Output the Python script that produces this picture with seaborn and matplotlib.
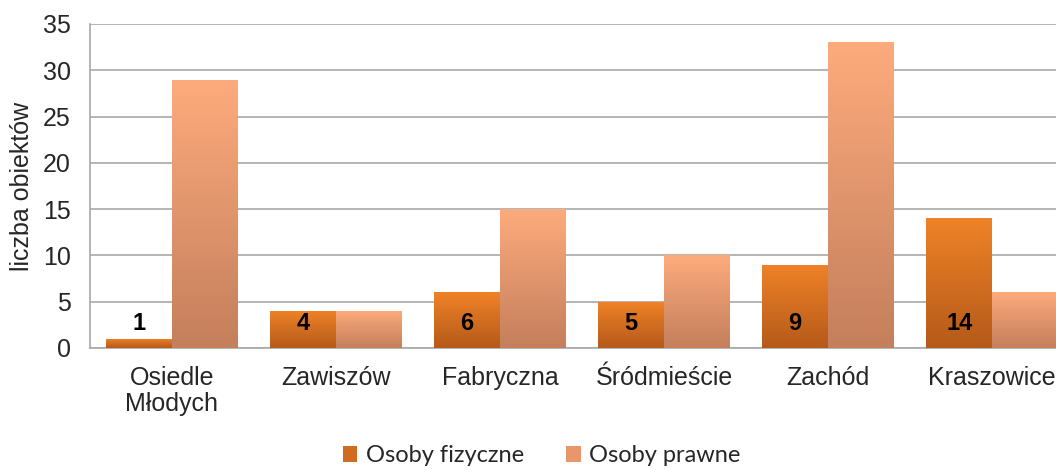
import numpy as np
import pandas as pd
import matplotlib
matplotlib.use("Agg")
import matplotlib.pyplot as plt
import seaborn as sns
from matplotlib.colors import LinearSegmentedColormap
from matplotlib.patches import Patch

# --- dane z wykresu ---
dzielnice = ["Osiedle\nMłodych", "Zawiszów", "Fabryczna", "Śródmieście", "Zachód", "Kraszowice"]
osoby_fizyczne = [1, 4, 6, 5, 9, 14]
osoby_prawne = [29, 4, 15, 10, 33, 6]
serie = ["Osoby fizyczne", "Osoby prawne"]

df = pd.DataFrame({
    "dzielnica": dzielnice * 2,
    "seria": [serie[0]] * len(dzielnice) + [serie[1]] * len(dzielnice),
    "liczba": osoby_fizyczne + osoby_prawne,
})

# kolory gradientu (gora -> dol)
grad = {
    serie[0]: ("#EF8227", "#B55A1A"),
    serie[1]: ("#FDAB7C", "#C47F5C"),
}
mid = {k: v[0] for k, v in grad.items()}

sns.set_style("white")
plt.rcParams["font.family"] = ["Liberation Sans", "DejaVu Sans"]

fig = plt.figure(figsize=(10.56, 4.70), dpi=100)
ax = fig.add_axes([0.0852, 0.2596, 0.9318, 0.6894])

sns.barplot(data=df, x="dzielnica", y="liczba", hue="seria", palette=mid,
            width=0.8, gap=0, ax=ax, legend=False, saturation=1)

# gradient na slupkach
for patch, s in zip(ax.patches, [s for s in serie for _ in dzielnice]):
    x0, y0 = patch.get_x(), patch.get_y()
    w, h = patch.get_width(), patch.get_height()
    cmap = LinearSegmentedColormap.from_list(s, [grad[s][1], grad[s][0]])
    img = ax.imshow(np.linspace(0, 1, 100).reshape(-1, 1), cmap=cmap, aspect="auto",
                    extent=[x0, x0 + w, y0, y0 + h], origin="lower", zorder=3)
    img.set_clip_path(patch)
    patch.set_edgecolor("none")

# etykiety wartosci dla osob fizycznych
for patch, val in zip(ax.patches[:len(dzielnice)], osoby_fizyczne):
    ax.text(patch.get_x() + patch.get_width() / 2, 2.6, str(val), ha="center", va="center",
            fontsize=17, fontweight="bold", color="black", zorder=5)

ax.set_xlim(-0.5, len(dzielnice) - 0.5)
ax.set_ylim(0, 35)
ax.set_yticks(range(0, 36, 5))
ax.yaxis.grid(True, color="#A8A8A8", linewidth=1.2)
ax.set_axisbelow(True)
for side in ["top", "right"]:
    ax.spines[side].set_visible(False)
for side in ["left", "bottom"]:
    ax.spines[side].set_color("#A8A8A8")
    ax.spines[side].set_linewidth(1.2)

ax.tick_params(axis="y", length=6, color="#A8A8A8", width=1.2, pad=8, labelsize=18)
ax.tick_params(axis="x", length=0, pad=13, labelsize=18)
for lbl in ax.get_xticklabels():
    lbl.set_linespacing(1.1)
ax.set_xlabel("")
ax.set_ylabel("liczba obiektów", fontsize=18, labelpad=6)

handles = [Patch(facecolor="#D06C20", edgecolor="none", label=serie[0]),
           Patch(facecolor="#E8966A", edgecolor="none", label=serie[1])]
fig.legend(handles=handles, loc="center", bbox_to_anchor=(0.513, 0.03), ncol=2,
           frameon=False, prop={"family": ["Lato", "DejaVu Sans"], "size": 17},
           handlelength=0.6, handleheight=0.7, handletextpad=0.35, columnspacing=1.8,
           borderpad=0.1)

fig.savefig("out.png", dpi=100)
